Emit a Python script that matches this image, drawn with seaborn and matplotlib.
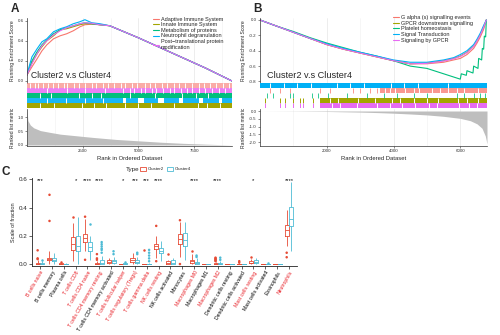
import numpy as np
import pandas as pd
import matplotlib
matplotlib.use("Agg")
import matplotlib.pyplot as plt
from matplotlib.lines import Line2D
from matplotlib.patches import Patch
import seaborn as sns

# ---------------- Panel A data ----------------
a_sets = ["Adaptive Immune System", "Innate Immune System", "Metabolism of proteins",
          "Neutrophil degranulation", "Post\u2212translational protein\nmodification"]
a_rank = [0, 220, 450, 670, 890, 1190, 1490, 1780, 2080, 2380, 2600, 2900, 3270, 3710,
          5000, 6000, 7000, 8000, 9200]
a_es_adaptive = [0.06, 0.14, 0.22, 0.30, 0.36, 0.42, 0.45, 0.47, 0.50, 0.54, 0.56, 0.565,
                 0.56, 0.55, 0.43, 0.33, 0.23, 0.13, 0.0]
a_es_innate = [0.06, 0.18, 0.27, 0.34, 0.40, 0.45, 0.51, 0.52, 0.54, 0.56, 0.57, 0.57,
               0.56, 0.55, 0.43, 0.33, 0.23, 0.13, 0.0]
a_es_metab = [0.06, 0.20, 0.29, 0.36, 0.41, 0.47, 0.51, 0.53, 0.55, 0.57, 0.58, 0.57,
              0.56, 0.55, 0.43, 0.33, 0.23, 0.13, 0.0]
a_es_neutro = [0.07, 0.24, 0.32, 0.39, 0.42, 0.49, 0.52, 0.54, 0.57, 0.59, 0.61, 0.58,
               0.57, 0.55, 0.43, 0.33, 0.23, 0.13, 0.0]
a_es_ptm = [0.06, 0.17, 0.27, 0.35, 0.40, 0.46, 0.50, 0.53, 0.55, 0.57, 0.58, 0.575,
            0.56, 0.55, 0.43, 0.33, 0.23, 0.13, 0.0]
a_metric_rank = [0, 40, 150, 300, 600, 1000, 1500, 2000, 2500, 3000, 4000, 5000, 6000,
                 7000, 8000, 9200]
a_metric = [1.25, 0.88, 0.72, 0.62, 0.52, 0.46, 0.39, 0.35, 0.31, 0.27, 0.2, 0.15, 0.1,
            0.06, 0.03, 0.0]
a_ticks = [2500, 5000, 7500]

# hit strips: hit spans, single hits and gaps (rank positions)
a_hit_adaptive_spans = [(0, 9200)]
a_hit_adaptive_gaps = [120, 350, 480, 700, 950, 1150, 1400, 1650, 1800, 2100, 2350, 2600,
                       2900, 3100, 3400, 3650, 3900, 4200, 4400, 4700, 4950, 5300, 5500,
                       5750, 6050, 6300, 6600, 6800, 7100, 7400, 7700, 7950, 8200, 8500,
                       8800, 9050]
a_hit_ptm_spans = [(0, 9200)]
a_hit_ptm_gaps = [900, 1800, 2600, 3500, 4300, 4600, 4800, 5100, 5300, 5600, 5800, 6100,
                  6400, 6600, 6900, 7200, 7400, 7700, 8000, 8300, 8600, 8900]
a_hit_metab_spans = [(0, 9200)]
a_hit_metab_gaps = [600, 1080, 2340, 2900, 3330, 4640, 5740, 6940, 7600, 8140]
a_hit_neutro_spans = [(0, 4300), (4450, 5000), (5250, 5900), (6150, 6800), (7000, 7700),
                      (7900, 8600), (8750, 9200)]
a_hit_neutro_gaps = [880, 1740, 2600, 3400]
a_hit_innate_spans = [(0, 9200)]
a_hit_innate_gaps = [600, 1200, 2450, 3000, 3550, 4380, 5000, 5580, 6580, 7680, 8100, 8680]

# ---------------- Panel B data ----------------
b_sets = ["G alpha (s) signalling events", "GPCR downstream signalling",
          "Platelet homeostasis", "Signal Transduction", "Signaling by GPCR"]
b_rank = [0, 500, 1000, 1500, 2000, 2500, 3000, 3500, 4000, 4500, 5000, 5500, 5800, 6000,
          6200, 6400, 6500, 6600, 6700, 6780]
b_es_galpha = [0, -0.08, -0.16, -0.24, -0.32, -0.38, -0.43, -0.48, -0.53, -0.57, -0.57,
               -0.55, -0.52, -0.50, -0.45, -0.37, -0.30, -0.22, -0.12, 0.0]
b_es_gpcr_down = [0, -0.08, -0.16, -0.24, -0.32, -0.38, -0.43, -0.48, -0.53, -0.57, -0.56,
                  -0.53, -0.50, -0.47, -0.42, -0.34, -0.27, -0.19, -0.09, 0.0]
b_es_signal = [0, -0.08, -0.16, -0.24, -0.31, -0.37, -0.42, -0.47, -0.52, -0.55, -0.55,
               -0.52, -0.49, -0.45, -0.40, -0.32, -0.25, -0.17, -0.07, 0.0]
b_es_gpcr = [0, -0.08, -0.16, -0.24, -0.32, -0.38, -0.43, -0.48, -0.53, -0.57, -0.565,
             -0.535, -0.505, -0.475, -0.425, -0.345, -0.275, -0.195, -0.095, 0.0]
b_rank_platelet = [0, 500, 1000, 1500, 2000, 2500, 3000, 3500, 4000, 4500, 5000, 5500,
                   6000, 6030, 6180, 6200, 6380, 6400, 6530, 6550, 6640, 6660, 6700, 6720,
                   6760, 6780]
b_es_platelet = [0, -0.08, -0.15, -0.23, -0.30, -0.36, -0.42, -0.47, -0.53, -0.60, -0.63,
                 -0.70, -0.77, -0.70, -0.72, -0.66, -0.69, -0.60, -0.63, -0.50, -0.52,
                 -0.37, -0.38, -0.21, -0.22, 0.0]
b_metric_rank = [0, 1000, 2000, 3000, 3500, 4000, 4500, 5000, 5500, 6000, 6300, 6500,
                 6650, 6750, 6800]
b_metric = [0.0, -0.01, -0.03, -0.07, -0.1, -0.14, -0.19, -0.25, -0.34, -0.47, -0.62,
            -0.82, -1.1, -1.6, -2.1]
b_ticks = [2000, 4000, 6000]

b_hit_signal_spans = [(0, 6800)]
b_hit_signal_gaps = [300, 720, 1100, 1520, 2320, 2700, 3120, 3920, 4300, 4720, 5620]
b_hit_galpha_ticks = [300, 600, 900, 1800, 2100, 2800, 3000, 3300, 3500]
b_hit_galpha_spans = [(3600, 6800)]
b_hit_galpha_gaps = [3750, 3900, 4050, 4350, 4600, 4750, 5150, 5400, 5620, 5900, 6120, 6520]
b_hit_platelet_ticks = [200, 400, 900, 1000, 1550, 1750, 2050, 2600, 3200, 3700, 4100,
                        4600, 5000, 5900, 6100, 6400, 6600, 6750]
b_hit_gpcr_down_ticks = [150, 600, 750, 1000, 1200, 1300, 1600]
b_hit_gpcr_down_spans = [(1800, 6800)]
b_hit_gpcr_down_gaps = [2100, 2350, 2950, 3450, 3950, 4200, 4620, 5000, 5320, 5920, 6200, 6520]
b_hit_gpcr_ticks = [150, 600, 750, 1000, 1200, 1300, 1600]
b_hit_gpcr_spans = [(1800, 6800)]
b_hit_gpcr_gaps = [2150, 2400, 2900, 3500, 3900, 4250, 4650, 5050, 5300, 5950, 6250, 6500]

# ---------------- Panel C data ----------------
cells = ["B cells naive", "B cells memory", "Plasma cells", "T cells CD8", "T cells CD4 naive",
         "T cells CD4 memory resting", "T cells CD4 memory activated",
         "T cells follicular helper", "T cells regulatory (Tregs)", "T cells gamma delta",
         "NK cells resting", "NK cells activated", "Monocytes", "Macrophages M0",
         "Macrophages M1", "Macrophages M2", "Dendritic cells resting",
         "Dendritic cells activated", "Mast cells resting", "Mast cells activated",
         "Eosinophils", "Neutrophils"]
cell_is_sig = [1, 0, 0, 1, 1, 1, 0, 1, 1, 1, 1, 0, 0, 1, 0, 1, 0, 0, 1, 0, 0, 1]
sig_labels = ["***", "", "", "*", "****", "****", "", "*", "***", "***", "****", "", "",
              "****", "", "****", "", "", "*", "", "", "****"]
# five-number summaries: min, q1, median, q3, max (whisker ends)
c2_stats = [(0, 0, 0.003, 0.01, 0.025), (0, 0.025, 0.035, 0.045, 0.09),
            (0, 0, 0.002, 0.005, 0.008), (0.02, 0.1, 0.14, 0.19, 0.29),
            (0.09, 0.155, 0.185, 0.215, 0.32), (0, 0, 0.002, 0.008, 0.02),
            (0, 0.01, 0.015, 0.025, 0.04), (0, 0, 0, 0.001, 0.003),
            (0, 0.015, 0.03, 0.04, 0.08), (0, 0, 0, 0.001, 0.002),
            (0.04, 0.105, 0.125, 0.145, 0.2), (0, 0, 0.005, 0.02, 0.03),
            (0.05, 0.14, 0.175, 0.21, 0.3), (0, 0.01, 0.02, 0.03, 0.07),
            (0, 0, 0, 0.001, 0.002), (0, 0, 0.002, 0.005, 0.012),
            (0, 0, 0, 0.001, 0.002), (0, 0, 0, 0.002, 0.005),
            (0, 0.005, 0.01, 0.02, 0.035), (0, 0, 0, 0.001, 0.003),
            (0, 0, 0, 0.001, 0.002), (0.125, 0.2, 0.24, 0.275, 0.38)]
c4_stats = [(0, 0, 0.002, 0.008, 0.02), (0, 0.02, 0.03, 0.04, 0.08),
            (0, 0, 0, 0.002, 0.005), (0, 0.09, 0.125, 0.195, 0.335),
            (0.03, 0.09, 0.12, 0.155, 0.2), (0, 0, 0.01, 0.03, 0.06),
            (0, 0.01, 0.02, 0.03, 0.05), (0, 0, 0.002, 0.005, 0.01),
            (0, 0.005, 0.015, 0.025, 0.05), (0, 0, 0, 0.002, 0.005),
            (0.02, 0.075, 0.09, 0.11, 0.16), (0, 0, 0.01, 0.025, 0.04),
            (0.03, 0.13, 0.17, 0.22, 0.3), (0, 0, 0.005, 0.015, 0.04),
            (0, 0, 0, 0.001, 0.002), (0, 0, 0.003, 0.01, 0.02),
            (0, 0, 0, 0.001, 0.002), (0, 0, 0, 0.001, 0.003),
            (0, 0.005, 0.012, 0.025, 0.045), (0, 0, 0, 0.002, 0.004),
            (0, 0, 0, 0.001, 0.002), (0.095, 0.27, 0.32, 0.405, 0.58)]
c2_outliers = [[0.035, 0.04, 0.097], [0.305, 0.49], [0.012], [0.335], [0.03, 0.335],
               [0.03, 0.04, 0.07], [], [], [], [0.1], [0.02, 0.27], [0.07], [0.0, 0.31],
               [0.09], [], [0.02, 0.025, 0.03, 0.035, 0.04, 0.045], [], [0.01, 0.02],
               [0.05], [], [], [0.048, 0.08]]
c4_outliers = [[0.025], [], [], [], [0.28], [0.08, 0.1, 0.11, 0.125, 0.14, 0.155],
               [0.07, 0.09], [0.015], [0.07, 0.08], [0.02, 0.04, 0.06, 0.08, 0.1], [], [],
               [], [0.05, 0.06], [], [0.03, 0.045], [], [], [], [0.008], [], []]
groups = ["Cluster2", "Cluster4"]

# ---------------- styling ----------------
sns.set_theme(style="ticks")
plt.rcParams['font.family'] = ['Liberation Sans', 'DejaVu Sans']
hue5 = ["#F8766D", "#A3A500", "#00BF7D", "#00B0F6", "#E76BF3"]
pal_c = {"Cluster2": "#E64B35", "Cluster4": "#4DBBD5"}
W, H = 500.0, 335.0

fig = plt.figure(figsize=(5, 3.35), dpi=100)


def add_ax(l, r, t, b):
    return fig.add_axes([l / W, 1 - b / H, (r - l) / W, (b - t) / H])


def style_small(ax, fs=3.2):
    ax.tick_params(axis='both', labelsize=fs, length=1.5, width=0.4, pad=1, colors='#333333')
    for s in ax.spines.values():
        s.set_linewidth(0.5)
        s.set_color('#333333')


def grid_lines(ax, majors, minors):
    for v in majors:
        ax.axvline(v, color='#E6E6E6', lw=0.5, zorder=0)
    for v in minors:
        ax.axvline(v, color='#F0F0F0', lw=0.4, zorder=0)


def draw_row(ax, row, color, spans=(), ticks=(), gaps=(), alpha=1.0):
    y0 = 4 - row + 0.04
    h = 0.92
    if spans:
        ax.broken_barh([(s, e - s) for s, e in spans], (y0, h), facecolors=color,
                       alpha=alpha, linewidth=0)
    if ticks:
        ax.vlines(ticks, y0, y0 + h, colors=color, linewidth=0.7, alpha=alpha)
    if gaps:
        ax.vlines(gaps, y0, y0 + h, colors='white', linewidth=0.7)


def gsea_panel(l, r, sets, es_frames, ylim_es, yticks_es, xmax, metric_rank, metric,
               ylim_m, yticks_m, xticks, minors, rows, leg_xy, title_xy, title_fs):
    ax1 = add_ax(l, r, 18, 83)
    df = pd.concat(es_frames, ignore_index=True)
    sns.lineplot(data=df, x="rank", y="es", hue="set", hue_order=sets, palette=hue5,
                 ax=ax1, legend=False, linewidth=0.8, sort=False, estimator=None)
    ax1.set_xlim(0, xmax)
    ax1.set_ylim(*ylim_es)
    ax1.set_yticks(yticks_es)
    ax1.set_yticklabels([f"{v:.1f}" for v in yticks_es])
    ax1.set_xticks([])
    ax1.set_xlabel("")
    ax1.set_ylabel("Running Enrichment Score", fontsize=3.6, labelpad=2)
    for s in ["top", "right", "bottom"]:
        ax1.spines[s].set_visible(False)
    style_small(ax1)
    grid_lines(ax1, xticks, minors)
    handles = [Line2D([0], [0], color=c, lw=0.8) for c in hue5]
    ax1.legend(handles, sets, loc='upper left', bbox_to_anchor=(leg_xy[0] / W, 1 - leg_xy[1] / H),
               bbox_transform=fig.transFigure, fontsize=4, frameon=False,
               handlelength=1.0, handletextpad=0.4, labelspacing=0.12, borderpad=0,
               borderaxespad=0)
    fig.text(title_xy[0] / W, 1 - title_xy[1] / H, "Cluster2 v.s Cluster4", fontsize=title_fs,
             va='center', ha='left')

    ax2 = add_ax(l, r, 83, 108)
    ax2.set_xlim(0, xmax)
    ax2.set_ylim(0, 5)
    ax2.axis('off')
    for i, (color, spans, ticks, gaps, alpha) in enumerate(rows):
        draw_row(ax2, i, color, spans, ticks, gaps, alpha)

    ax3 = add_ax(l, r, 109, 146)
    ax3.fill_between(metric_rank, 0, metric, color="#BEBEBE", linewidth=0, zorder=2)
    ax3.set_xlim(0, xmax)
    ax3.set_ylim(*ylim_m)
    ax3.set_yticks(yticks_m)
    ax3.set_yticklabels([f"{v:.1f}" for v in yticks_m])
    ax3.set_xticks(xticks)
    ax3.set_xticklabels([str(v) for v in xticks])
    ax3.set_xlabel("Rank in Ordered Dataset", fontsize=4.2, labelpad=1.5)
    ax3.set_ylabel("Ranked list metric", fontsize=3.6, labelpad=2)
    for s in ["top", "right"]:
        ax3.spines[s].set_visible(False)
    style_small(ax3)
    grid_lines(ax3, xticks, minors)
    return ax1, ax3


def es_frame(ranks, values, name):
    return pd.DataFrame({"rank": ranks, "es": values, "set": name})


# ---- Panel A ----
a_frames = [es_frame(a_rank, a_es_adaptive, a_sets[0]), es_frame(a_rank, a_es_innate, a_sets[1]),
            es_frame(a_rank, a_es_metab, a_sets[2]), es_frame(a_rank, a_es_neutro, a_sets[3]),
            es_frame(a_rank, a_es_ptm, a_sets[4])]
a_rows = [(hue5[0], a_hit_adaptive_spans, [], a_hit_adaptive_gaps, 0.6),
          (hue5[4], a_hit_ptm_spans, [], a_hit_ptm_gaps, 0.85),
          (hue5[2], a_hit_metab_spans, [], a_hit_metab_gaps, 1.0),
          (hue5[3], a_hit_neutro_spans, [], a_hit_neutro_gaps, 0.9),
          (hue5[1], a_hit_innate_spans, [], a_hit_innate_gaps, 1.0)]
gsea_panel(27, 232, a_sets, a_frames, (-0.02, 0.627), [0.0, 0.2, 0.4, 0.6], 9200,
           a_metric_rank, a_metric, (-0.037, 1.3), [0.0, 0.5, 1.0], a_ticks,
           [1250, 3750, 6250, 8750], a_rows, (153, 16.5), (31, 75), 6.2)

# ---- Panel B ----
b_frames = [es_frame(b_rank, b_es_galpha, b_sets[0]), es_frame(b_rank, b_es_gpcr_down, b_sets[1]),
            es_frame(b_rank_platelet, b_es_platelet, b_sets[2]),
            es_frame(b_rank, b_es_signal, b_sets[3]), es_frame(b_rank, b_es_gpcr, b_sets[4])]
b_rows = [(hue5[3], b_hit_signal_spans, [], b_hit_signal_gaps, 1.0),
          (hue5[0], b_hit_galpha_spans, b_hit_galpha_ticks, b_hit_galpha_gaps, 0.75),
          (hue5[2], [], b_hit_platelet_ticks, [], 0.8),
          (hue5[1], b_hit_gpcr_down_spans, b_hit_gpcr_down_ticks, b_hit_gpcr_down_gaps, 1.0),
          (hue5[4], b_hit_gpcr_spans, b_hit_gpcr_ticks, b_hit_gpcr_gaps, 1.0)]
gsea_panel(260, 487, b_sets, b_frames, (-0.82, 0.026), [0.0, -0.2, -0.4, -0.6, -0.8], 6800,
           b_metric_rank, b_metric, (-2.236, 0.128), [0.0, -0.5, -1.0, -1.5, -2.0], b_ticks,
           [1000, 3000, 5000], b_rows, (393, 15), (267, 76), 6.6)

# ---- Panel C ----
rows = []
for i, cell in enumerate(cells):
    for g, stats in zip(groups, (c2_stats, c4_stats)):
        for v in stats[i]:
            rows.append({"cell": cell, "Type": g, "value": v})
df_box = pd.DataFrame(rows)
orows = []
for i, cell in enumerate(cells):
    for g, outs in zip(groups, (c2_outliers, c4_outliers)):
        for v in outs[i]:
            orows.append({"cell": cell, "Type": g, "value": v})
df_out = pd.DataFrame(orows)

axc = add_ax(32, 297, 178, 266)
sns.boxplot(data=df_box, x="cell", y="value", hue="Type", order=cells, hue_order=groups,
            palette=pal_c, fill=False, width=0.8, gap=0.15, whis=(0, 100), showfliers=False,
            linewidth=0.6, showcaps=False, legend=False, ax=axc)
sns.stripplot(data=df_out, x="cell", y="value", hue="Type", order=cells, hue_order=groups,
              palette=pal_c, dodge=True, jitter=False, size=1.8, linewidth=0, legend=False,
              ax=axc)
axc.set_xlim(-0.675, 21.67)
axc.set_ylim(-0.014, 0.609)
axc.set_yticks([0.0, 0.2, 0.4, 0.6])
axc.set_yticklabels(["0.0", "0.2", "0.4", "0.6"])
axc.set_xlabel("")
axc.set_ylabel("Scale of fraction", fontsize=4, labelpad=2)
for s in ["top", "right"]:
    axc.spines[s].set_visible(False)
axc.tick_params(axis='y', labelsize=4.5, length=2, width=0.5, pad=1)
axc.tick_params(axis='x', labelsize=3.7, length=2, width=0.5, pad=1)
for s in ["left", "bottom"]:
    axc.spines[s].set_linewidth(0.6)
    axc.spines[s].set_color('#222222')
axc.set_xticks(range(len(cells)))
axc.set_xticklabels(cells, rotation=60, ha='right', va='top', rotation_mode='anchor')
for lab, sig in zip(axc.get_xticklabels(), cell_is_sig):
    lab.set_color("#E8232A" if sig else "black")
for i, s in enumerate(sig_labels):
    if s:
        axc.text(i, 0.59, s, ha='center', va='center', fontsize=4.2, color='black')

fig.text(126 / W, 1 - 169 / H, "Type", fontsize=4.5, va='center', ha='left')
c_handles = [Patch(facecolor='white', edgecolor=pal_c[g], linewidth=0.6) for g in groups]
fig.legend(c_handles, groups, loc='center left', bbox_to_anchor=(140 / W, 1 - 169 / H),
           ncol=2, fontsize=3.2, frameon=False, handlelength=1.3, handleheight=1.0,
           handletextpad=0.4, columnspacing=0.8, borderpad=0, borderaxespad=0)

# panel letters
fig.text(11 / W, 1 - 9 / H, "A", fontsize=8.5, fontweight='bold', va='center', ha='left')
fig.text(253 / W, 1 - 9 / H, "B", fontsize=8.5, fontweight='bold', va='center', ha='left')
fig.text(1 / W, 1 - 172 / H, "C", fontsize=8.5, fontweight='bold', va='center', ha='left')

fig.savefig("out.png", dpi=100)
